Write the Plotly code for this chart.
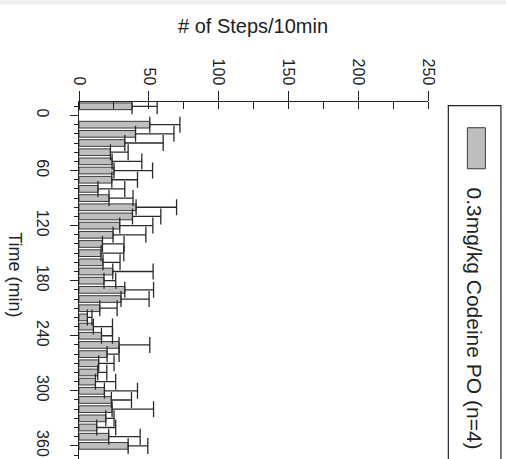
import plotly.graph_objects as go

# ---- data ----
time_min = [-10, 10, 20, 30, 40, 50, 60, 70, 80, 90, 100, 110, 120, 130, 140, 150, 160, 170,
            180, 190, 200, 210, 220, 230, 240, 250, 260, 270, 280, 290, 300, 310, 320, 330,
            340, 350, 360]
steps = [38.0, 50.7, 40.5, 32.8, 22.5, 23.7, 25.1, 23.5, 13.6, 21.5, 40.9, 38.3, 29.2, 24.4,
         16.8, 15.8, 17.2, 24.2, 17.9, 32.8, 30.1, 14.9, 6.0, 10.3, 16.1, 28.7, 20.1, 14.1,
         13.4, 11.8, 18.2, 23.2, 23.7, 19.2, 12.7, 21.3, 35.2]
sem = [18.0, 21.6, 27.5, 27.5, 12.7, 21.3, 27.6, 18.4, 19.2, 17.2, 29.0, 20.3, 23.7, 23.5,
       15.5, 16.3, 12.2, 28.9, 8.4, 20.6, 20.1, 12.4, 3.3, 13.7, 7.9, 22.0, 8.6, 11.0, 6.5,
       14.5, 23.7, 14.4, 29.7, 5.9, 13.6, 22.5, 14.1]
steps_ticks = [0, 50, 100, 150, 200, 250]
time_ticks = [0, 60, 120, 180, 240, 300, 360]
series_name = "0.3mg/kg Codeine PO (n=4)"
title_text = "# of Steps/10min"
time_title = "Time (min)"

W, H = 506, 459
L, R, T, B = 79.3, 78.3, 102.3, 0
pw, ph = W - L - R, H - T - B


def px(x):
    return (x - L) / pw


def py(y):
    return (H - B - y) / ph


FONT = "Liberation Sans, Arial, sans-serif"
INK = "#222222"

fig = go.Figure()
fig.add_trace(go.Bar(
    x=steps, y=time_min, orientation="h", width=7.3,
    marker=dict(color="#bebebe", line=dict(color="#3a3a3a", width=1)),
    error_x=dict(type="data", array=sem, arrayminus=[0] * len(sem), symmetric=False,
                 color="#2a2a2a", thickness=1.3, width=8),
    showlegend=False,
))

fig.update_layout(
    width=W, height=H,
    margin=dict(l=L, r=R, t=T, b=B, pad=0),
    paper_bgcolor="white", plot_bgcolor="white",
    font=dict(family=FONT, color=INK, size=16),
    xaxis=dict(
        side="top", range=[0, 250], tickvals=steps_ticks, ticktext=[str(v) for v in steps_ticks],
        tickangle=90, ticks="outside", ticklen=10, tickwidth=1.2, tickcolor="#222",
        showline=True, linecolor="#222", linewidth=1.2, showgrid=False, zeroline=False,
        tickfont=dict(size=16, family=FONT, color=INK), ticklabelstandoff=0,
        minor=dict(ticks="inside", dtick=25, tick0=0, ticklen=7, tickwidth=1.2, tickcolor="#222",
                   showgrid=False),
    ),
    yaxis=dict(
        range=[374.3, -14.7], tickvals=time_ticks, ticktext=[str(v) for v in time_ticks],
        tickangle=90, ticks="outside", ticklen=8, tickwidth=1.2, tickcolor="#222",
        showline=True, linecolor="#222", linewidth=1.2, showgrid=False, zeroline=False,
        tickfont=dict(size=16, family=FONT, color=INK), ticklabelstandoff=14,
        minor=dict(ticks="outside", dtick=10, tick0=0, ticklen=4, tickwidth=1.2, tickcolor="#222",
                   showgrid=False),
    ),
    shapes=[
        dict(type="rect", xref="paper", yref="paper", x0=px(0), x1=px(W), y0=py(0), y1=py(5),
             fillcolor="#f0f0f0", line=dict(width=0), layer="below"),
        dict(type="rect", xref="paper", yref="paper", x0=px(448), x1=px(500.5), y0=py(106),
             y1=py(475), fillcolor="white", line=dict(color="#222", width=1.2)),
        dict(type="rect", xref="paper", yref="paper", x0=px(467), x1=px(485), y0=py(128),
             y1=py(169), fillcolor="#bebebe", line=dict(color="#3a3a3a", width=1)),
    ],
    annotations=[
        dict(text=title_text, xref="paper", yref="paper", x=px(253), y=py(26), showarrow=False,
             font=dict(size=20, family=FONT, color=INK), xanchor="center", yanchor="middle"),
        dict(text=time_title, xref="paper", yref="paper", x=px(16), y=py(275), showarrow=False,
             textangle=90, font=dict(size=18, family=FONT, color=INK), xanchor="center",
             yanchor="middle"),
        dict(text=series_name, xref="paper", yref="paper", x=px(474), y=py(319), showarrow=False,
             textangle=90, font=dict(size=21, family=FONT, color=INK), xanchor="center",
             yanchor="middle"),
    ],
)

fig.write_html("out.html")
